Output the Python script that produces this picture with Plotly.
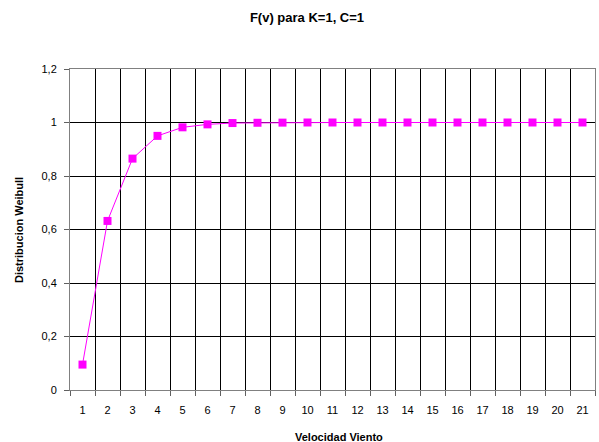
import plotly.graph_objects as go

# Weibull cumulative distribution, K=1, C=1
velocidad = [str(i) for i in range(1, 22)]
distribucion = [0.095, 0.632, 0.865, 0.950, 0.982, 0.993, 0.998, 0.999, 0.9995, 1.0,
                1.0, 1.0, 1.0, 1.0, 1.0, 1.0, 1.0, 1.0, 1.0, 1.0, 1.0]
y_ticks = [0, 0.2, 0.4, 0.6, 0.8, 1.0, 1.2]
y_labels = ["0", "0,2", "0,4", "0,6", "0,8", "1", "1,2"]

W, H = 599, 442
L, R, T, B = 70, 4, 69, 52
FONT = "Liberation Sans, Arial, sans-serif"

fig = go.Figure()
fig.add_trace(go.Scatter(
    x=velocidad, y=distribucion, mode="lines+markers",
    line=dict(color="#FF00FF", width=1),
    marker=dict(symbol="square", size=8, color="#FF00FF"),
    showlegend=False,
))

fig.update_layout(
    width=W, height=H,
    margin=dict(l=L, r=R, t=T, b=B),
    paper_bgcolor="white", plot_bgcolor="white",
    font=dict(family=FONT, size=11, color="black"),
    title=dict(text="<b>F(v) para K=1, C=1</b>", font=dict(size=13, family=FONT),
               x=307 / W, xanchor="center", xref="container",
               y=1 - 17 / H, yanchor="middle", yref="container"),
    xaxis=dict(type="category", tickson="boundaries", showgrid=True,
               range=[-0.5, len(velocidad) - 0.5],
               gridcolor="black", gridwidth=1,
               ticks="outside", ticklen=5, tickcolor="#606060",
               showline=True, linecolor="#808080", linewidth=1, mirror=True,
               ticklabelstandoff=10, tickfont=dict(size=11)),
    yaxis=dict(range=[0, 1.2], tickvals=y_ticks, ticktext=y_labels,
               showgrid=True, gridcolor="black", gridwidth=1, zeroline=False,
               ticks="outside", ticklen=5, tickcolor="#606060",
               showline=True, linecolor="#808080", linewidth=1, mirror=True,
               ticklabelstandoff=5, tickfont=dict(size=11)),
    annotations=[
        dict(text="<b>Velocidad Viento</b>", xref="paper", yref="paper",
             x=(339 - L) / (W - L - R), y=-(437 - (H - B)) / (H - T - B),
             xanchor="center", yanchor="middle", showarrow=False,
             font=dict(size=11, family=FONT)),
        dict(text="<b>Distribucion Weibull</b>", xref="paper", yref="paper",
             x=-(L - 19) / (W - L - R), y=((H - B) - 230) / (H - T - B),
             xanchor="center", yanchor="middle", textangle=-90, showarrow=False,
             font=dict(size=11, family=FONT)),
    ],
)

fig.write_html("out.html")
